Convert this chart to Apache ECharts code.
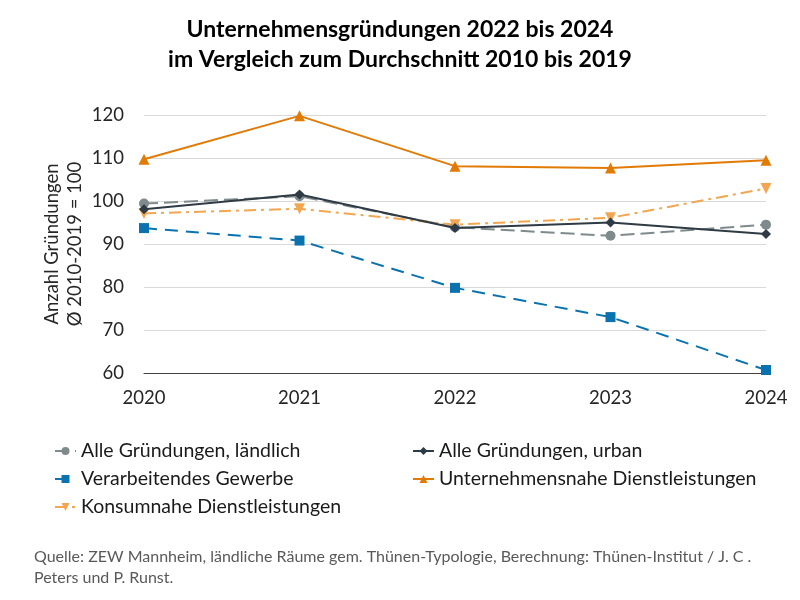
<!DOCTYPE html>
<html><head><meta charset="utf-8">
<script src="https://cdn.jsdelivr.net/npm/echarts@6/dist/echarts.min.js"></script>
<style>html,body{margin:0;padding:0;background:#fff}#c{width:800px;height:600px}</style>
</head><body><div id="c"></div>
<script>
const years = ['2020','2021','2022','2023','2024'];
const laendlich = [99.4, 101.1, 93.9, 91.9, 94.5];
const urban = [98.1, 101.5, 93.7, 95.0, 92.3];
const verarbeitend = [93.7, 90.8, 79.8, 73.0, 60.7];
const unternehmensnah = [109.7, 119.8, 108.1, 107.7, 109.5];
const konsumnah = [97.1, 98.2, 94.5, 96.1, 102.9];
const names = ['Alle Gründungen, ländlich','Alle Gründungen, urban','Verarbeitendes Gewerbe','Unternehmensnahe Dienstleistungen','Konsumnahe Dienstleistungen'];

const FONT = 'Lato, "Open Sans", sans-serif';
const chart = echarts.init(document.getElementById('c'));
const legendPos = [[49,436],[407,436],[49,464],[407,464],[49,492]];
const legends = names.map((n,i)=>({
  data:[n], left:legendPos[i][0], top:legendPos[i][1], itemWidth:21, itemHeight:10, itemGap:0,
  textStyle:{fontFamily:FONT, fontSize:19.5, color:'#1a1a1a'}
}));
chart.setOption({
  animation:false,
  title:[
    {text:'Unternehmensgründungen 2022 bis 2024\nim Vergleich zum Durchschnitt 2010 bis 2019', left:'center', top:10,
     textStyle:{fontFamily:FONT, fontSize:23, fontWeight:'bold', color:'#000', lineHeight:30, align:'center'}},
    {text:'Quelle: ZEW Mannheim, ländliche Räume gem. Thünen-Typologie, Berechnung: Thünen-Institut / J. C .\nPeters und P. Runst.', left:34, top:546, padding:0,
     textStyle:{fontFamily:FONT, fontSize:16, fontWeight:'normal', color:'#595959', lineHeight:21}}
  ],
  legend: legends,
  grid:{left:144, right:34, top:115, bottom:227},
  xAxis:{type:'category', data:years, boundaryGap:false,
    axisLine:{lineStyle:{color:'#404040', width:1.2}}, axisTick:{show:false},
    axisLabel:{fontFamily:FONT, fontSize:18.5, color:'#262626', margin:16}},
  yAxis:{type:'value', min:60, max:120, interval:10,
    name:'Anzahl Gründungen\nØ 2010-2019 = 100', nameLocation:'middle', nameGap:57, nameRotate:90,
    nameMoveOverlap:false,
    nameTextStyle:{fontFamily:FONT, fontSize:18.5, color:'#262626', lineHeight:23},
    axisLine:{show:false}, axisTick:{show:false},
    splitLine:{lineStyle:{color:'#D9D9D9', width:1}},
    axisLabel:{fontFamily:FONT, fontSize:18.5, color:'#262626', margin:20}},
  series:[
    {name:names[0], type:'line', data:laendlich, symbol:'circle', symbolSize:10,
     itemStyle:{color:'#7F8A8C'}, lineStyle:{color:'#7F8A8C', width:2, type:[14,6]}, z:3},
    {name:names[1], type:'line', data:urban, symbol:'diamond', symbolSize:10,
     itemStyle:{color:'#2E3A44'}, lineStyle:{color:'#2E3A44', width:2}, z:4},
    {name:names[2], type:'line', data:verarbeitend, symbol:'rect', symbolSize:10,
     itemStyle:{color:'#0A72AE'}, lineStyle:{color:'#0A72AE', width:2, type:[13,8]}, z:3},
    {name:names[3], type:'line', data:unternehmensnah, symbol:'triangle', symbolSize:11,
     itemStyle:{color:'#E27A06'}, lineStyle:{color:'#E27A06', width:2}, z:3},
    {name:names[4], type:'line', data:konsumnah, symbol:'triangle', symbolRotate:180, symbolSize:11,
     itemStyle:{color:'#F2A650'}, lineStyle:{color:'#F2A650', width:2, type:[12,5,3,5]}, z:3}
  ]
});
</script></body></html>
